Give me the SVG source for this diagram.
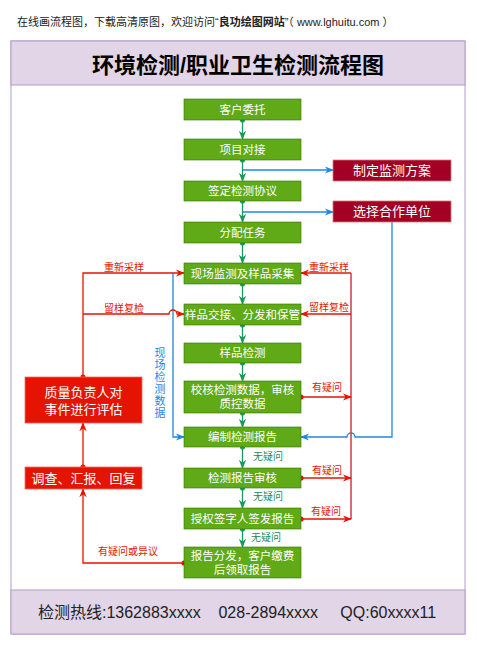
<svg xmlns="http://www.w3.org/2000/svg" width="477" height="647" viewBox="0 0 477 647">
<defs>
<style>
text{font-family:"Liberation Sans","Noto Sans CJK SC",sans-serif;}
.g rect{fill:#60a917;stroke:#2d7600;stroke-width:0.6;}
.g text{fill:#fff;font-size:11.5px;text-anchor:middle;}
.dr rect{fill:#a20025;stroke:#d77;stroke-width:0.8;}
.dr text{fill:#fff;font-size:13px;text-anchor:middle;}
.rd rect{fill:#e51400;stroke:#f66;stroke-width:0.8;}
.rd text{fill:#fff;font-size:13px;text-anchor:middle;}
.cg{stroke:#1a9a5a;stroke-width:1.3;fill:none;}
.cb{stroke:#1e88e5;stroke-width:1.3;fill:none;}
.cr{stroke:#e51400;stroke-width:1.3;fill:none;}
.cr2{stroke:#d04848;stroke-width:1.6;fill:none;}
.lr{fill:#e51400;font-size:10px;text-anchor:middle;}
.lg{fill:#1a8a5a;font-size:10px;text-anchor:middle;}
.lb{fill:#1e88e5;font-size:11px;text-anchor:middle;}
</style>
<marker id="ag" viewBox="0 0 10 10" refX="9" refY="5" markerWidth="7" markerHeight="7" orient="auto"><path d="M0,1 L10,5 L0,9 L3,5 Z" fill="#1a9a5a"/></marker>
<marker id="ab" viewBox="0 0 10 10" refX="9" refY="5" markerWidth="7" markerHeight="7" orient="auto"><path d="M0,1 L10,5 L0,9 L3,5 Z" fill="#1e88e5"/></marker>
<marker id="ar" viewBox="0 0 10 10" refX="9" refY="5" markerWidth="7" markerHeight="7" orient="auto"><path d="M0,1 L10,5 L0,9 L3,5 Z" fill="#e51400"/></marker>
<marker id="dg" viewBox="0 0 6 6" refX="3" refY="3" markerWidth="4" markerHeight="4"><circle cx="3" cy="3" r="3" fill="#1a9a5a"/></marker>
<marker id="dr" viewBox="0 0 6 6" refX="3" refY="3" markerWidth="4" markerHeight="4"><circle cx="3" cy="3" r="3" fill="#e51400"/></marker>
</defs>
<rect x="0" y="0" width="477" height="647" fill="#fff"/>
<text x="17" y="26" font-size="11" fill="#222" xml:space="preserve">在线画流程图，下载高清原图，欢迎访问“<tspan font-weight="bold">良功绘图网站</tspan>”（ www.lghuitu.com ）</text>
<g id="frame">
<rect x="11" y="41" width="454" height="593" fill="#fff" stroke="#b39cc8" stroke-width="1"/>
<rect x="11" y="41" width="454" height="44" fill="#e1d5e7" stroke="#b39cc8" stroke-width="1"/>
<rect x="11" y="590" width="454" height="44" fill="#e1d5e7" stroke="#b39cc8" stroke-width="1"/>
<text x="238" y="73" font-size="22" font-weight="bold" text-anchor="middle" fill="#000">环境检测/职业卫生检测流程图</text>
<text x="237" y="618" font-size="16" text-anchor="middle" fill="#222" xml:space="preserve">检测热线:1362883xxxx    028-2894xxxx     QQ:60xxxx11</text>
</g>
<g id="connectors">
<path class="cg" d="M242.5,120 V139" marker-start="url(#dg)" marker-end="url(#ag)"/>
<path class="cg" d="M242.5,160 V181" marker-start="url(#dg)" marker-end="url(#ag)"/>
<path class="cg" d="M242.5,201 V222" marker-start="url(#dg)" marker-end="url(#ag)"/>
<path class="cg" d="M242.5,243 V263" marker-start="url(#dg)" marker-end="url(#ag)"/>
<path class="cg" d="M242.5,284 V304" marker-start="url(#dg)" marker-end="url(#ag)"/>
<path class="cg" d="M242.5,325 V343" marker-start="url(#dg)" marker-end="url(#ag)"/>
<path class="cg" d="M242.5,363 V381" marker-start="url(#dg)" marker-end="url(#ag)"/>
<path class="cg" d="M242.5,413 V427" marker-start="url(#dg)" marker-end="url(#ag)"/>
<path class="cg" d="M242.5,447 V468" marker-start="url(#dg)" marker-end="url(#ag)"/>
<path class="cg" d="M242.5,488 V508" marker-start="url(#dg)" marker-end="url(#ag)"/>
<path class="cg" d="M242.5,529 V547" marker-start="url(#dg)" marker-end="url(#ag)"/>
<text class="lg" x="268" y="460">无疑问</text>
<text class="lg" x="268" y="500">无疑问</text>
<text class="lg" x="266" y="541">无疑问</text>
<path class="cb" d="M242.5,170 H333" marker-end="url(#ab)"/>
<path class="cb" d="M242.5,212 H333" marker-end="url(#ab)"/>
<path class="cb" d="M392,222 V437 H355 A4,4 0 0 0 347,437 H301" marker-end="url(#ab)"/>
<path class="cb" d="M173,273 V437 H184" marker-end="url(#ab)"/>
<text class="lb"><tspan x="160" y="357">现</tspan><tspan x="160" y="369">场</tspan><tspan x="160" y="381">检</tspan><tspan x="160" y="393">测</tspan><tspan x="160" y="405">数</tspan><tspan x="160" y="417">据</tspan></text>
<path class="cr" d="M83,377 V273 H184" marker-start="url(#dr)" marker-end="url(#ar)"/>
<path class="cr" d="M83,314 H169 A4,4 0 0 1 177,314 H184" marker-end="url(#ar)"/>
<text class="lr" x="124" y="271">重新采样</text>
<text class="lr" x="124" y="312">留样复检</text>
<path class="cr2" d="M351,273 V519"/>
<path class="cr" d="M351,273 H301" marker-end="url(#ar)"/>
<path class="cr" d="M351,314 H301" marker-end="url(#ar)"/>
<text class="lr" x="329" y="271">重新采样</text>
<text class="lr" x="329" y="311">留样复检</text>
<path class="cr" d="M301,397 H351" marker-start="url(#dr)" marker-end="url(#ar)"/>
<path class="cr" d="M301,478 H351" marker-start="url(#dr)" marker-end="url(#ar)"/>
<path class="cr" d="M301,519 H351" marker-start="url(#dr)" marker-end="url(#ar)"/>
<text class="lr" x="327" y="391">有疑问</text>
<text class="lr" x="327" y="474">有疑问</text>
<text class="lr" x="326" y="515">有疑问</text>
<path class="cr" d="M184,563 H83 V489" marker-start="url(#dr)" marker-end="url(#ar)"/>
<path class="cr" d="M83,467 V423" marker-start="url(#dr)" marker-end="url(#ar)"/>
<text class="lr" x="128" y="555">有疑问或异议</text>
</g>
<g id="n1" class="g"><rect x="184" y="99" width="117" height="21"/><text x="242.5" y="114">客户委托</text></g>
<g id="n2" class="g"><rect x="184" y="139" width="117" height="21"/><text x="242.5" y="154">项目对接</text></g>
<g id="n3" class="g"><rect x="184" y="181" width="117" height="20"/><text x="242.5" y="195">签定检测协议</text></g>
<g id="n4" class="g"><rect x="184" y="222" width="117" height="21"/><text x="242.5" y="237">分配任务</text></g>
<g id="n5" class="g"><rect x="184" y="263" width="117" height="21"/><text x="242.5" y="278">现场监测及样品采集</text></g>
<g id="n6" class="g"><rect x="184" y="304" width="117" height="21"/><text x="242.5" y="319">样品交接、分发和保管</text></g>
<g id="n7" class="g"><rect x="184" y="343" width="117" height="20"/><text x="242.5" y="357">样品检测</text></g>
<g id="n8" class="g"><rect x="184" y="381" width="117" height="32"/><text x="242.5" y="394">校核检测数据，审核</text><text x="242.5" y="408">质控数据</text></g>
<g id="n9" class="g"><rect x="184" y="427" width="117" height="20"/><text x="242.5" y="441">编制检测报告</text></g>
<g id="n10" class="g"><rect x="184" y="468" width="117" height="20"/><text x="242.5" y="482">检测报告审核</text></g>
<g id="n11" class="g"><rect x="184" y="508" width="117" height="21"/><text x="242.5" y="523">授权签字人签发报告</text></g>
<g id="n12" class="g"><rect x="184" y="547" width="117" height="31"/><text x="242.5" y="560">报告分发，客户缴费</text><text x="242.5" y="574">后领取报告</text></g>
<g id="n13" class="dr"><rect x="333" y="160" width="118" height="21"/><text x="392" y="175">制定监测方案</text></g>
<g id="n14" class="dr"><rect x="333" y="201" width="118" height="21"/><text x="392" y="216">选择合作单位</text></g>
<g id="n15" class="rd"><rect x="25" y="377" width="117" height="46"/><text x="83.5" y="397">质量负责人对</text><text x="83.5" y="414">事件进行评估</text></g>
<g id="n16" class="rd"><rect x="25" y="467" width="117" height="22"/><text x="83.5" y="483">调查、汇报、回复</text></g>
</svg>
